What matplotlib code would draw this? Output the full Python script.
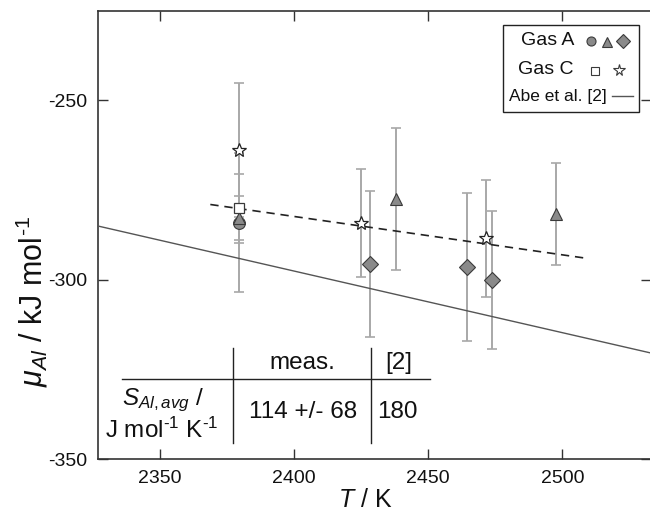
import matplotlib
matplotlib.use("Agg")
import matplotlib.pyplot as plt
from matplotlib.lines import Line2D
from matplotlib.patches import Rectangle

plt.rcParams['font.family'] = ['Liberation Sans', 'DejaVu Sans']
plt.rcParams['mathtext.fontset'] = 'custom'
plt.rcParams['mathtext.rm'] = 'Liberation Sans'
plt.rcParams['mathtext.it'] = 'Liberation Sans:italic'
plt.rcParams['mathtext.bf'] = 'Liberation Sans:bold'
plt.rcParams['axes.unicode_minus'] = False

# ---- data ----
gasA_circle_T = [2379.5]
gasA_circle_mu = [-284.2]
gasA_circle_err = [19.4]

gasA_tri_T = [2379.5, 2437.9, 2497.6]
gasA_tri_mu = [-282.9, -277.6, -281.8]
gasA_tri_err = [6.2, 19.8, 14.2]

gasA_dia_T = [2428.4, 2464.5, 2473.8]
gasA_dia_mu = [-295.7, -296.4, -300.1]
gasA_dia_err = [20.4, 20.6, 19.2]

gasC_sq_T = [2379.5]
gasC_sq_mu = [-280.2]
gasC_sq_err = [9.5]

gasC_star_T = [2379.5, 2424.8, 2471.4]
gasC_star_mu = [-263.9, -284.3, -288.5]
gasC_star_err = [18.6, 15.0, 16.3]

fit_T = [2368.7, 2508.2]
fit_mu = [-279.1, -294.0]

abe_T = [2326.8, 2533.2]
abe_mu = [-285.1, -320.5]

xticks = [2350, 2400, 2450, 2500]
yticks = [-350, -300, -250]

table_header = ["meas.", "[2]"]
table_values = ["114 +/- 68", "180"]

W, H = 650, 514
fig = plt.figure(figsize=(W / 100, H / 100), dpi=100)
ax = fig.add_axes([98 / W, 1 - 459 / H, 1.002 - 98 / W, (459 - 11) / H])

def fx(x):
    return x / W

def fy(y):
    return 1 - y / H

ax.set_xlim(2326.8, 2533.2)
ax.set_ylim(-350, -225.2)

errc = '#a8a8a8'
ekw = dict(fmt='none', ecolor=errc, elinewidth=1.4, capsize=3.3, capthick=1.2, zorder=2)
for T, mu, e in [(gasC_star_T, gasC_star_mu, gasC_star_err),
                 (gasA_circle_T, gasA_circle_mu, gasA_circle_err),
                 (gasA_tri_T, gasA_tri_mu, gasA_tri_err),
                 (gasA_dia_T, gasA_dia_mu, gasA_dia_err),
                 (gasC_sq_T, gasC_sq_mu, gasC_sq_err)]:
    ax.errorbar(T, mu, yerr=e, **ekw)

# lines
ax.plot(abe_T, abe_mu, color='#555555', lw=1.0, zorder=3)
ax.plot(fit_T, fit_mu, color='#222222', lw=1.2, ls=(0, (5, 3.5)), zorder=3)

mfill = '#8a8a8a'
medge = '#3a3a3a'
ax.plot(gasA_circle_T, gasA_circle_mu, 'o', ms=8.5, mfc=mfill, mec=medge, mew=0.8, zorder=4)
ax.plot(gasA_tri_T, gasA_tri_mu, '^', ms=9, mfc=mfill, mec=medge, mew=0.8, zorder=4)
ax.plot(gasA_dia_T, gasA_dia_mu, 'D', ms=8, mfc=mfill, mec=medge, mew=0.8, zorder=4)
ax.plot(gasC_sq_T, gasC_sq_mu, 's', ms=6.5, mfc='white', mec=medge, mew=0.9, zorder=5)
ax.plot(gasC_star_T, gasC_star_mu, '*', ms=10, mfc='white', mec='#222222', mew=0.9, zorder=5)

ax.set_xticks(xticks)
ax.set_yticks(yticks)
ax.tick_params(direction='in', length=7, width=1.0, color='#333333', labelsize=14,
               top=True, right=True, pad=8, labelcolor='#111111')
for s in ax.spines.values():
    s.set_color('#333333')
    s.set_linewidth(1.2)

ax.set_xlabel(r'$T$ / K', fontsize=18, va='center', color='#111111')
ax.xaxis.set_label_coords(fx(365), fy(500), transform=fig.transFigure)
ax.set_ylabel(r'$\mu_{Al}$ / kJ mol$^{\mathregular{\text{-}1}}$', fontsize=22,
              va='center', color='#111111')
ax.yaxis.set_label_coords(fx(32), fy(301), transform=fig.transFigure)

# ---- table ----
tl = dict(color='#222222', lw=1.0, transform=fig.transFigure)
fig.add_artist(Line2D([fx(122), fx(430)], [fy(379), fy(379)], **tl))
fig.add_artist(Line2D([fx(233), fx(233)], [fy(348), fy(443)], **tl))
fig.add_artist(Line2D([fx(371), fx(371)], [fy(348), fy(443)], **tl))
tkw = dict(fontsize=17.5, ha='center', va='center', color='#111111')
fig.text(fx(302), fy(363), table_header[0], **tkw)
fig.text(fx(399), fy(363), table_header[1], **tkw)
fig.text(fx(303), fy(412), table_values[0], **tkw)
fig.text(fx(397), fy(412), table_values[1], **tkw)
fig.text(fx(163), fy(400), r'$S_{Al,avg}$ /', **tkw)
fig.text(fx(162), fy(430), r'J mol$^{\mathregular{\text{-}1}}$ K$^{\mathregular{\text{-}1}}$', **tkw)

# ---- legend ----
fig.add_artist(Rectangle((fx(503), fy(112)), fx(639) - fx(503), fy(25) - fy(112),
                         transform=fig.transFigure, fill=True, fc='white',
                         ec='#222222', lw=1.0, zorder=10))
lkw = dict(ha='right', va='center', color='#111111', zorder=11)
fig.text(fx(574), fy(41), 'Gas A', fontsize=14, **lkw)
fig.text(fx(574), fy(70), 'Gas C', fontsize=14, **lkw)
fig.text(fx(607), fy(96), 'Abe et al. [2]', fontsize=12.5, **lkw)
mk = dict(transform=fig.transFigure, clip_on=False, zorder=12, mec=medge, mew=0.8)
fig.add_artist(Line2D([fx(591)], [fy(41)], marker='o', ms=6.5, mfc=mfill, **mk))
fig.add_artist(Line2D([fx(607)], [fy(41.5)], marker='^', ms=7, mfc=mfill, **mk))
fig.add_artist(Line2D([fx(623)], [fy(41)], marker='D', ms=7, mfc=mfill, **mk))
fig.add_artist(Line2D([fx(595)], [fy(71)], marker='s', ms=6, mfc='white', **mk))
fig.add_artist(Line2D([fx(619)], [fy(70)], marker='*', ms=8.5, mfc='white', **mk))
fig.add_artist(Line2D([fx(612), fx(633)], [fy(96), fy(96)], color='#555555', lw=1.0,
                      transform=fig.transFigure, zorder=12))

fig.savefig('out.png', dpi=100)
